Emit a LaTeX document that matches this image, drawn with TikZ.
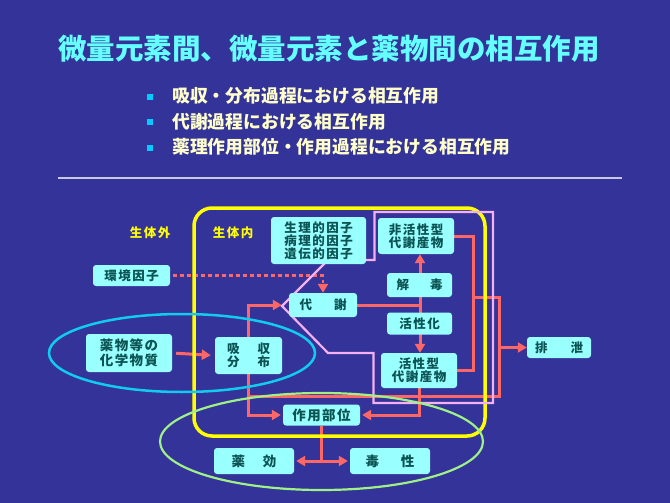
\documentclass[tikz,border=0pt]{standalone}
\usepackage{fontspec}
\setmainfont{Noto Sans CJK JP}
\usetikzlibrary{arrows.meta,calc}
\definecolor{bgcol}{HTML}{333399}
\definecolor{boxfill}{HTML}{99FFFF}
\definecolor{boxtext}{HTML}{0B5252}
\definecolor{titlecol}{HTML}{66FFFF}
\definecolor{bullettext}{HTML}{FFFFCC}
\definecolor{bulletsq}{HTML}{00CCFF}
\definecolor{conncol}{HTML}{FF6666}
\definecolor{pinkcol}{HTML}{F4B0F0}
\definecolor{cyanell}{HTML}{11CCEE}
\definecolor{greenell}{HTML}{A0F088}
\definecolor{rulecol}{HTML}{C8C8E0}
\definecolor{yellowcol}{HTML}{FFFF00}
\newcommand{\bxfont}{\fontsize{12.5}{13}\selectfont\bfseries\addfontfeatures{LetterSpace=12}}
\newcommand{\bxbigfont}{\fontsize{13.5}{15}\selectfont\bfseries\addfontfeatures{LetterSpace=10}}
\pgfdeclarelayer{back}
\pgfsetlayers{back,main}
\begin{document}
\begin{tikzpicture}[x=1pt,y=-1pt,
  box/.style={fill=boxfill, rounded corners=3pt, text=boxtext, font=\bxfont, align=center, inner sep=0pt},
  conn/.style={draw=conncol, line width=3pt},
  arr/.style={conn, -{Triangle[length=9pt,width=10pt]}},
  dotconn/.style={draw=conncol, line width=2.5pt, dash pattern=on 3.5pt off 3.5pt, -{Triangle[length=9pt,width=10pt]}},
  lbl/.style={text=yellowcol, font=\bxfont},
]
\useasboundingbox (0,0) rectangle (670,503);

% title and bullets
\node[inner sep=0pt, font=\fontsize{28.5}{32}\selectfont\bfseries, text=titlecol] (title) at (329,48.5) {微量元素間、微量元素と薬物間の相互作用};
\node[fill=bulletsq, minimum size=6pt, inner sep=0pt] (s1) at (150,97) {};
\node[fill=bulletsq, minimum size=6pt, inner sep=0pt] (s2) at (150,122) {};
\node[fill=bulletsq, minimum size=6pt, inner sep=0pt] (s3) at (150,148) {};
\node[anchor=west, inner sep=0pt, font=\fontsize{17.8}{20}\selectfont\bfseries, text=bullettext] (b1) at (172,96) {吸収・分布過程における相互作用};
\node[anchor=west, inner sep=0pt, font=\fontsize{17.8}{20}\selectfont\bfseries, text=bullettext] (b2) at (172,121.5) {代謝過程における相互作用};
\node[anchor=west, inner sep=0pt, font=\fontsize{17.8}{20}\selectfont\bfseries, text=bullettext] (b3) at (172,147) {薬理作用部位・作用過程における相互作用};

% labels
\node[lbl] (outside) at (150,233) {生体外};
\node[lbl] (inside) at (233,233) {生体内};

% boxes
\node[box, minimum width=77pt, minimum height=21pt] (env) at (131.5,275.5) {環境因子};
\node[box, minimum width=95pt, minimum height=47pt] (phys) at (318.5,240.5) {生理的因子\\病理的因子\\遺伝的因子};
\node[box, minimum width=68pt, minimum height=24pt] (metab) at (323,305) {代\hspace{22pt}謝};
\node[box, minimum width=76pt, minimum height=36pt] (inact) at (416,236) {非活性型\\代謝産物};
\node[box, minimum width=65pt, minimum height=24pt] (detox) at (419.5,285) {解\hspace{21pt}毒};
\node[box, minimum width=65pt, minimum height=22pt] (activ) at (419.5,323.5) {活性化};
\node[box, minimum width=76pt, minimum height=35pt] (actmet) at (419,370.5) {活性型\\代謝産物};
\node[box, minimum width=64pt, minimum height=21pt] (excr) at (559,347.5) {排\hspace{23pt}泄};
\node[box, font=\bxbigfont, minimum width=86pt, minimum height=38pt] (chem) at (129,353) {薬物等の\\化学物質};
\node[box, minimum width=67pt, minimum height=37pt] (absorb) at (248.5,355.5) {吸\hspace{18pt}収\\分\hspace{18pt}布};
\node[box, font=\bxbigfont, minimum width=77pt, minimum height=21pt] (site) at (321.5,415) {作用部位};
\node[box, font=\bxbigfont, minimum width=80pt, minimum height=26pt] (eff) at (254,461) {薬\hspace{18pt}効};
\node[box, font=\bxbigfont, minimum width=80pt, minimum height=26pt] (tox) at (390,461) {毒\hspace{22pt}性};

\coordinate (junc) at (420,305);
\coordinate (c1) at (473,297);
\coordinate (c2) at (499,297);
\coordinate (c3) at (499,396);

\begin{pgfonlayer}{back}
\fill[bgcol] (0,0) rectangle (670,503);
\draw[rulecol, line width=1.8pt] (58,178) -- (622,178);
% connectors
\draw[dotconn, shorten <=3pt] (env.east) -| (metab.north);
\draw[arr, shorten <=4pt, shorten >=4pt] (chem.east) -- (absorb.west);
\draw[arr] (absorb.north) |- ($(metab.west)+(-7,0)$);
\draw[arr, shorten >=2pt] (absorb.south) |- (site.west);
\draw[conn] (metab.east) -- (junc);
\draw[arr] (junc) -- (junc |- inact.south);
\draw[arr] (junc) -- (junc |- actmet.north);
\draw[conn, shorten <=-1pt] (inact.east) -| (c1) |- (actmet.east);
\draw[conn] (c1) -- (c2) -- (c3) -- (absorb.south |- c3);
\draw[arr] (c2 |- excr.west) -- (excr.west);
\draw[arr, shorten >=2pt] (actmet.south) |- (site.east);
\draw[conn] (site.south) -- (site.south |- eff.east);
\draw[conn, {Triangle[length=9pt,width=10pt]}-{Triangle[length=9pt,width=10pt]}, shorten <=2pt, shorten >=2pt] (eff.east) -- (tox.west);
% frames
\draw[yellowcol, line width=3.5pt, rounded corners=18pt] (194,208) rectangle (485,436);
\draw[pinkcol, line width=2.2pt] (374.5,212) -- (493,212) -- (493,403) -- (373.5,403) -- (373.5,353) -- (328,353) -- (282,306) -- (328,260) -- (374.5,260) -- cycle;
\draw[cyanell, line width=2.5pt] (182,353) ellipse [x radius=133pt, y radius=39pt];
\draw[greenell, line width=2.2pt] (321.5,441.5) ellipse [x radius=161.5pt, y radius=48.5pt];
\end{pgfonlayer}
\end{tikzpicture}
\end{document}
